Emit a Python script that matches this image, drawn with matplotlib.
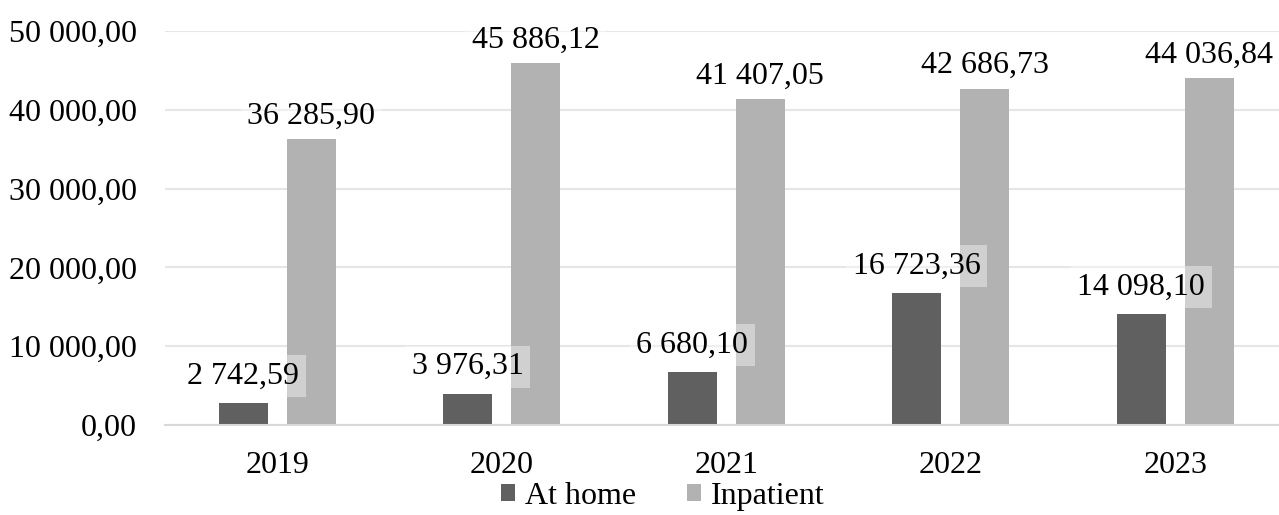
import numpy as np
import matplotlib
matplotlib.use("Agg")
import matplotlib.pyplot as plt

plt.rcParams['font.family'] = ['Liberation Serif', 'DejaVu Serif']

years = ["2019", "2020", "2021", "2022", "2023"]
at_home = [2742.59, 3976.31, 6680.10, 16723.36, 14098.10]
inpatient = [36285.90, 45886.12, 41407.05, 42686.73, 44036.84]


def fmt(v):
    s = f"{v:,.2f}"
    return s.replace(",", " ").replace(".", ",")


fig = plt.figure(figsize=(12.79, 5.15), dpi=100)
ax = fig.add_axes([165 / 1279, 90 / 515, 1122.5 / 1279, 394 / 515])

x = np.arange(len(years))
w = 0.218
off = 0.1514
b1 = ax.bar(x - off, at_home, w, color="#606060", label="At home", zorder=2)
b2 = ax.bar(x + off, inpatient, w, color="#b2b2b2", label="Inpatient", zorder=2)

box = dict(boxstyle="square,pad=0.2", facecolor="white", edgecolor="none", alpha=0.4)
for bars, vals, dy in ((b1, at_home, 9), (b2, inpatient, 6)):
    for r, v in zip(bars, vals):
        ax.annotate(fmt(v), (r.get_x() + r.get_width() / 2, v),
                    xytext=(0, dy), textcoords="offset points",
                    ha="center", va="bottom", fontsize=23, color="black",
                    bbox=box, zorder=3)

ax.set_xlim(-0.5, 4.5)
ax.set_ylim(0, 50000)
ax.set_yticks(np.arange(0, 50001, 10000))
ax.set_yticklabels([fmt(t) for t in np.arange(0, 50001, 10000)])
ax.set_xticks(x)
ax.set_xticklabels(years)
ax.tick_params(axis="both", length=0, labelsize=23)
ax.tick_params(axis="y", pad=20)
ax.tick_params(axis="x", pad=19)
ax.grid(axis="y", color="#e6e6e6", linewidth=1.5, zorder=0)
for s in ("top", "right", "left"):
    ax.spines[s].set_visible(False)
ax.spines["bottom"].set_color("#d9d9d9")
ax.spines["bottom"].set_linewidth(1.5)

fig.legend(loc="lower center", bbox_to_anchor=(0.518, -0.048), ncol=2, frameon=False,
           fontsize=23, handlelength=0.45, handleheight=0.45, handletextpad=0.3,
           columnspacing=1.6)

fig.savefig("out.png", dpi=100)
